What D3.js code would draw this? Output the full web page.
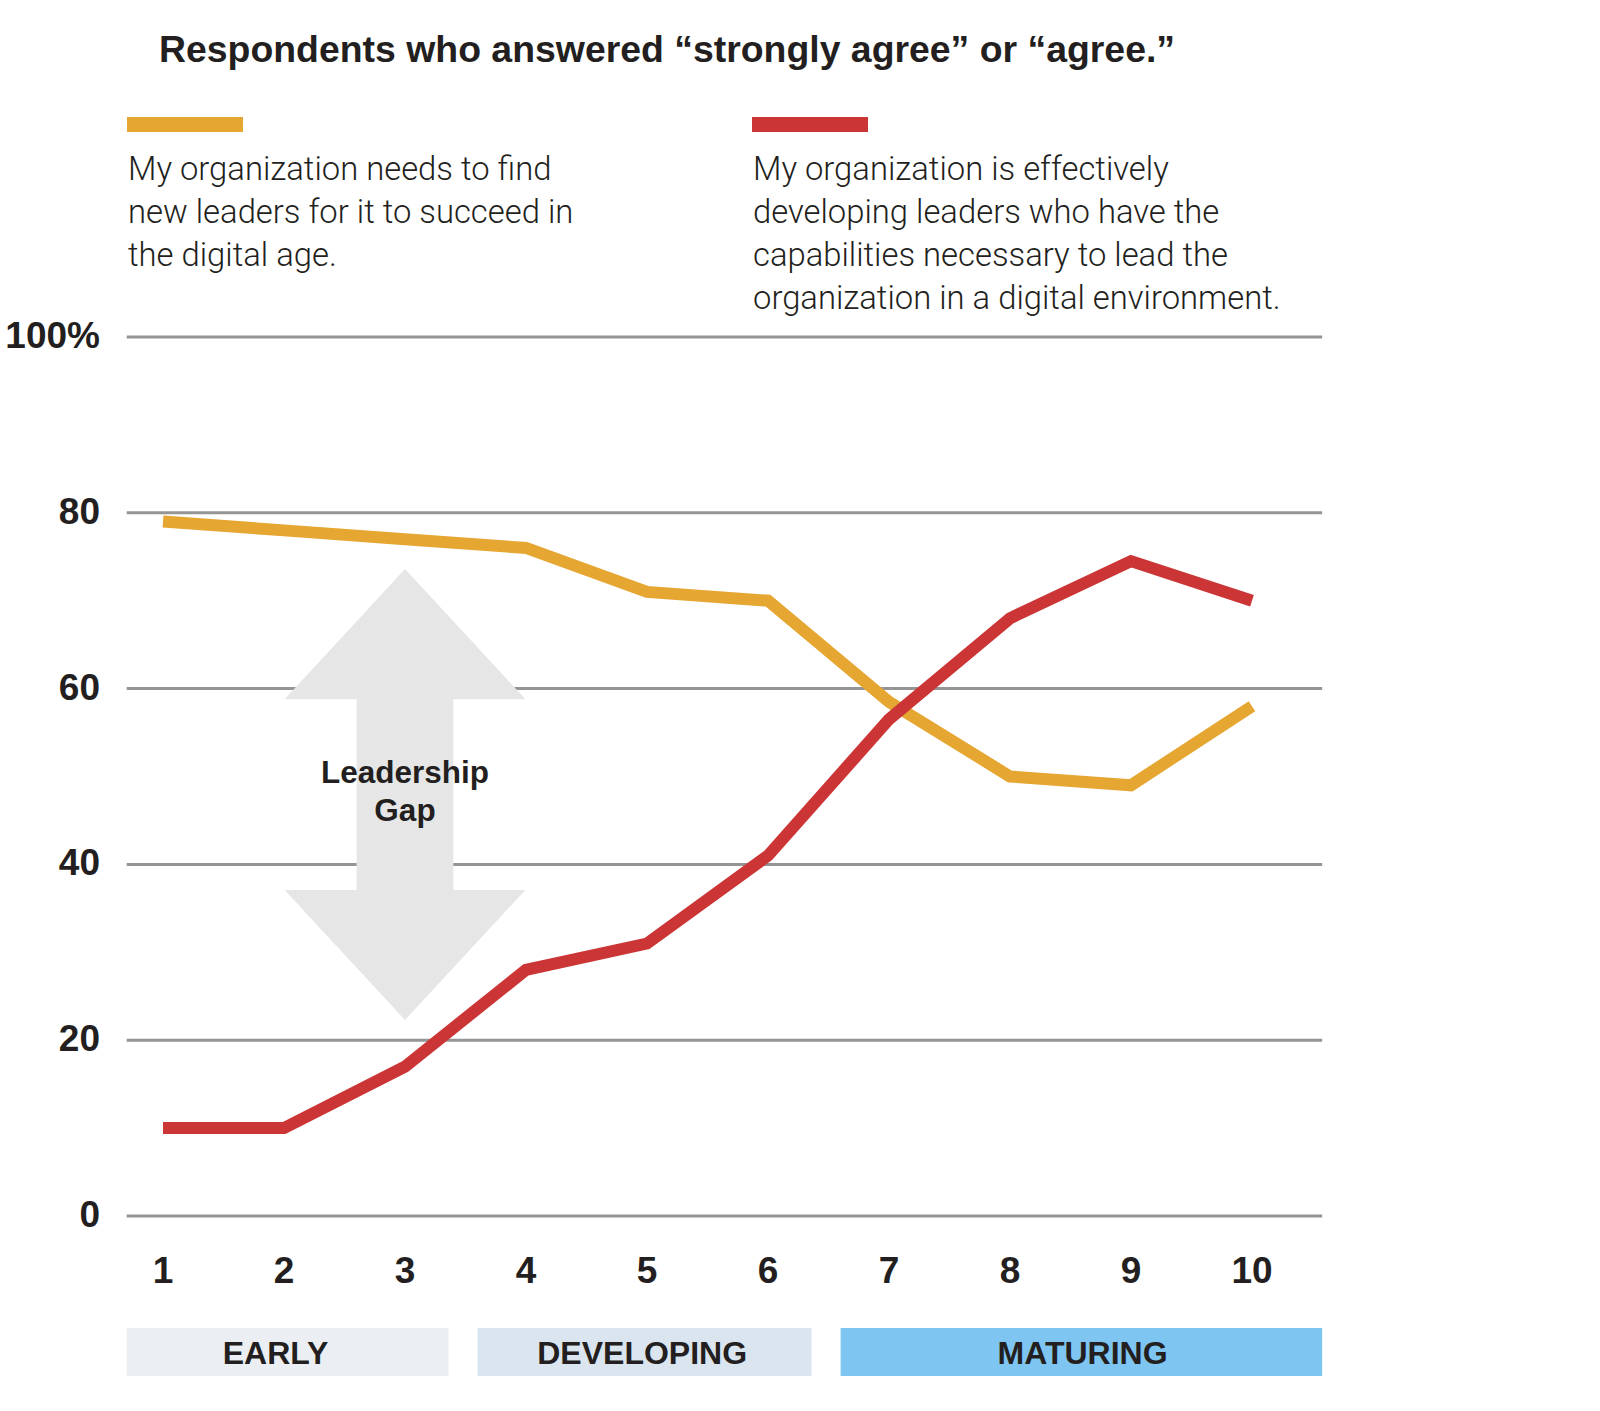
<!DOCTYPE html>
<html>
<head>
<meta charset="utf-8">
<script src="https://cdn.jsdelivr.net/npm/d3@7"></script>
<style>
  html, body { margin: 0; padding: 0; background: #ffffff; }
  svg { display: block; }
</style>
</head>
<body>
<script>
// ---------------- DATA ----------------
const title = "Respondents who answered \u201cstrongly agree\u201d or \u201cagree.\u201d";
const stages = [1, 2, 3, 4, 5, 6, 7, 8, 9, 10];
const needNewLeaders = [79, 78, 77, 76, 71, 70, 58.5, 50, 49, 58];
const developingLeaders = [10, 10, 17, 28, 31, 41, 56.5, 68, 74.5, 70];
const yTicks = [0, 20, 40, 60, 80, 100];
const yTickLabels = ["0", "20", "40", "60", "80", "100%"];
const legendNeed = ["My organization needs to find", "new leaders for it to succeed in", "the digital age."];
const legendDevelop = ["My organization is effectively", "developing leaders who have the", "capabilities necessary to lead the", "organization in a digital environment."];
const phaseNames = ["EARLY", "DEVELOPING", "MATURING"];
const phaseFrom = [0.7, 3.6, 6.6];
const phaseTo = [3.36, 6.36, 10.58];
const phaseLabelAt = [1.93, 4.96, 8.6];
const gapLabel = ["Leadership", "Gap"];
const gapStage = 3;
const gapLow = 22.3;
const gapHigh = 73.6;

// ---------------- STYLE ----------------
const W = 1600, H = 1411;
const colNeed = "#e5a632", colDev = "#cc3535";
const gridCol = "#959595", textCol = "#231f20", arrowCol = "#e6e6e6";
const phaseCols = ["#ebeff4", "#dae5ef", "#7fc5f2"];
const boldFont = "'Liberation Sans', Arial, Helvetica, sans-serif";
const lightFont = "Roboto, 'Open Sans', sans-serif";

const svg = d3.select("body").append("svg").attr("width", W).attr("height", H);

const x = d3.scaleLinear().domain([1, 10]).range([163, 1252]);
const y = d3.scaleLinear().domain([0, 100]).range([1216, 337]);
const gridX0 = x(0.7), gridX1 = x(10.58);

// title
svg.append("text").attr("x", 159).attr("y", 62)
  .attr("font-family", boldFont).attr("font-weight", 700).attr("font-size", 37.4)
  .attr("fill", textCol).text(title);

// legend
const legends = [
  { col: colNeed, lines: legendNeed, x: 127 },
  { col: colDev, lines: legendDevelop, x: 752 }
];
legends.forEach(l => {
  svg.append("rect").attr("x", l.x).attr("y", 117).attr("width", 116).attr("height", 15).attr("fill", l.col);
  const t = svg.append("text").attr("font-family", lightFont).attr("font-weight", 300)
    .attr("font-size", 32.8).attr("fill", textCol);
  l.lines.forEach((s, i) => {
    t.append("tspan").attr("x", l.x + 1).attr("y", 180 + i * 43).text(s);
  });
});

// grid lines
svg.append("g").selectAll("line").data(yTicks).join("line")
  .attr("x1", gridX0).attr("x2", gridX1)
  .attr("y1", d => y(d)).attr("y2", d => y(d))
  .attr("stroke", gridCol).attr("stroke-width", 3);

// y labels
svg.append("g").selectAll("text").data(yTicks).join("text")
  .attr("x", 100).attr("y", d => y(d) + 11)
  .attr("text-anchor", "end")
  .attr("font-family", boldFont).attr("font-weight", 700).attr("font-size", 37)
  .attr("fill", textCol).text((d, i) => yTickLabels[i]);

// Leadership gap double arrow
const headHalf = 0.995, shaftHalf = 0.4, headLen = 14.8;
const arrowPts = [
  [gapStage, gapHigh],
  [gapStage + headHalf, gapHigh - headLen],
  [gapStage + shaftHalf, gapHigh - headLen],
  [gapStage + shaftHalf, gapLow + headLen],
  [gapStage + headHalf, gapLow + headLen],
  [gapStage, gapLow],
  [gapStage - headHalf, gapLow + headLen],
  [gapStage - shaftHalf, gapLow + headLen],
  [gapStage - shaftHalf, gapHigh - headLen],
  [gapStage - headHalf, gapHigh - headLen]
];
svg.append("path")
  .attr("d", d3.line().x(d => x(d[0])).y(d => y(d[1]))(arrowPts) + "Z")
  .attr("fill", arrowCol);

const gt = svg.append("text").attr("text-anchor", "middle")
  .attr("font-family", boldFont).attr("font-weight", 700).attr("font-size", 31.5)
  .attr("fill", textCol);
gapLabel.forEach((s, i) => {
  gt.append("tspan").attr("x", x(gapStage)).attr("y", 783 + i * 38).text(s);
});

// series lines
const lineGen = d3.line().x((d, i) => x(stages[i])).y(d => y(d));
[[needNewLeaders, colNeed], [developingLeaders, colDev]].forEach(([vals, col]) => {
  svg.append("path").attr("d", lineGen(vals))
    .attr("fill", "none").attr("stroke", col).attr("stroke-width", 12)
    .attr("stroke-linejoin", "miter").attr("stroke-linecap", "butt");
});

// x labels
svg.append("g").selectAll("text").data(stages).join("text")
  .attr("x", d => x(d)).attr("y", 1283)
  .attr("text-anchor", "middle")
  .attr("font-family", boldFont).attr("font-weight", 700).attr("font-size", 37)
  .attr("fill", textCol).text(d => d);

// phase bands
const pg = svg.append("g");
phaseNames.forEach((p, i) => {
  pg.append("rect").attr("x", x(phaseFrom[i])).attr("y", 1328)
    .attr("width", x(phaseTo[i]) - x(phaseFrom[i])).attr("height", 48)
    .attr("fill", phaseCols[i]);
  pg.append("text").attr("x", x(phaseLabelAt[i])).attr("y", 1364)
    .attr("text-anchor", "middle")
    .attr("font-family", boldFont).attr("font-weight", 700).attr("font-size", 32)
    .attr("fill", textCol).text(p);
});
</script>
</body>
</html>
